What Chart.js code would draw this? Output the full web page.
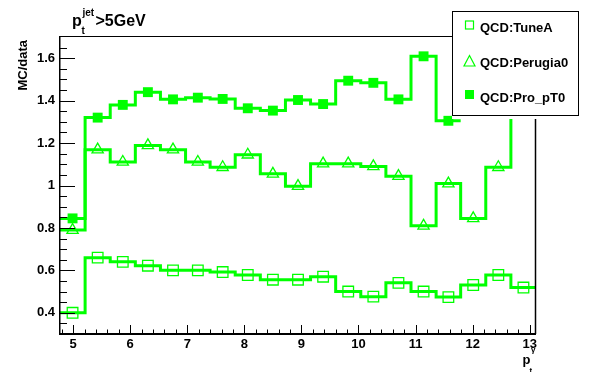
<!DOCTYPE html>
<html>
<head>
<meta charset="utf-8">
<script src="https://cdn.jsdelivr.net/npm/chart.js@4.4.0/dist/chart.umd.min.js"></script>
<style>
  body { margin: 0; background: #fff; }
  canvas { display: block; }
</style>
</head>
<body>
<canvas id="ratioChart" width="596" height="372"></canvas>
<script>
// bin edges of the p_t^gamma histogram
const binEdges = [4.77, 5.21, 5.65, 6.09, 6.53, 6.97, 7.40, 7.84, 8.28, 8.72, 9.16,
                  9.60, 10.04, 10.48, 10.92, 11.36, 11.79, 12.23, 12.67, 13.11];

const tuneA    = [0.40, 0.66, 0.64, 0.622, 0.60, 0.60, 0.592, 0.578, 0.556, 0.556,
                  0.57, 0.50, 0.476, 0.541, 0.50, 0.474, 0.531, 0.578, 0.519];
const perugia0 = [0.79, 1.169, 1.111, 1.189, 1.169, 1.111, 1.086, 1.145, 1.055, 0.997,
                  1.103, 1.103, 1.09, 1.044, 0.81, 1.009, 0.845, 1.086, 1.62];
const proPT0   = [0.845, 1.32, 1.38, 1.44, 1.406, 1.414, 1.408, 1.364, 1.353, 1.403,
                  1.384, 1.494, 1.484, 1.406, 1.609, 1.305, null, null, null];

const seriesNames = ["QCD:TuneA", "QCD:Perugia0", "QCD:Pro_pT0"];
const xTicks = [5, 6, 7, 8, 9, 10, 11, 12, 13];
const yTicks = [0.4, 0.6, 0.8, 1, 1.2, 1.4, 1.6];
const yTickLabels = ["0.4", "0.6", "0.8", "1", "1.2", "1.4", "1.6"];

const GREEN = "#00ff00";
const FONT = "'Liberation Sans', Arial, Helvetica, sans-serif";

function histPoints(values) {
    const pts = [];
    values.forEach((v, i) => {
        pts.push({ x: binEdges[i], y: v });
        pts.push({ x: binEdges[i + 1], y: v });
    });
    return pts;
}

function markerPoints(values) {
    return values.map((v, i) => ({ x: (binEdges[i] + binEdges[i + 1]) / 2, y: v }));
}

function histDataset(values) {
    return {
        type: "line",
        data: histPoints(values),
        borderColor: GREEN,
        borderWidth: 3,
        pointRadius: 0,
        fill: false,
        spanGaps: false,
        tension: 0
    };
}

function markerDataset(values, style, radius, filled) {
    return {
        type: "scatter",
        data: markerPoints(values),
        pointStyle: style,
        pointRadius: radius,
        pointBorderColor: GREEN,
        pointBackgroundColor: filled ? GREEN : "rgba(0,0,0,0)",
        pointBorderWidth: filled ? 0 : 1.3,
        showLine: false
    };
}

// ROOT-like frame, ticks, titles and legend
const rootFrame = {
    id: "rootFrame",
    afterDraw(chart) {
        const ctx = chart.ctx;
        const a = chart.chartArea;
        const xs = chart.scales.x, ys = chart.scales.y;
        ctx.save();
        ctx.strokeStyle = "#000";
        ctx.fillStyle = "#000";

        // frame
        ctx.lineWidth = 1;
        ctx.beginPath();
        ctx.moveTo(a.left, a.top - 0.5); ctx.lineTo(a.right, a.top - 0.5);
        ctx.stroke();
        ctx.lineWidth = 1.5;
        ctx.beginPath();
        ctx.moveTo(a.right - 0.5, a.top); ctx.lineTo(a.right - 0.5, a.bottom);
        ctx.moveTo(a.left - 0.25, a.top - 1); ctx.lineTo(a.left - 0.25, a.bottom);
        ctx.stroke();
        ctx.lineWidth = 2;
        ctx.beginPath();
        ctx.moveTo(a.left - 1, a.bottom); ctx.lineTo(a.right, a.bottom);
        ctx.stroke();

        // y ticks
        ctx.lineWidth = 1;
        ctx.beginPath();
        for (let k = 7; k <= 33; k++) {
            const y = Math.round(ys.getPixelForValue(k * 0.05)) + 0.5;
            const len = (k % 4 === 0) ? 15 : 7;
            ctx.moveTo(a.left, y); ctx.lineTo(a.left + len, y);
        }
        // x ticks
        for (let k = 24; k <= 65; k++) {
            const x = Math.round(xs.getPixelForValue(k * 0.2)) + 0.5;
            const len = (k % 5 === 0) ? 9 : 4.5;
            ctx.moveTo(x, a.bottom); ctx.lineTo(x, a.bottom - len);
        }
        ctx.stroke();

        // title p_t^jet > 5GeV
        ctx.textAlign = "left";
        ctx.textBaseline = "alphabetic";
        ctx.font = "bold 16px " + FONT;
        ctx.fillText("p", 72, 26);
        ctx.font = "bold 10px " + FONT;
        ctx.fillText("jet", 82.5, 16);
        ctx.fillText("t", 81.5, 34);
        ctx.font = "bold 16px " + FONT;
        ctx.fillText(">5GeV", 95.5, 26);

        // y axis title
        ctx.save();
        ctx.translate(26.5, 40);
        ctx.rotate(-Math.PI / 2);
        ctx.textAlign = "right";
        ctx.font = "bold 13px " + FONT;
        ctx.fillText("MC/data", 0, 0);
        ctx.restore();

        // x axis title p_t^gamma
        ctx.font = "bold 13px " + FONT;
        ctx.fillText("p", 522.5, 364);
        ctx.font = "bold 8px " + FONT;
        ctx.fillText("\u03b3", 531, 352);
        ctx.fillText("t", 529.5, 373);

        // legend box
        ctx.fillStyle = "#fff";
        ctx.fillRect(452, 11, 128, 108);
        ctx.lineWidth = 1;
        ctx.strokeStyle = "#000";
        ctx.strokeRect(452.5, 11.5, 126, 104);

        ctx.strokeStyle = GREEN;
        ctx.fillStyle = GREEN;
        ctx.lineWidth = 1.2;
        ctx.strokeRect(465.5, 21, 8, 8);
        ctx.beginPath();
        ctx.moveTo(469.5, 55.5);
        ctx.lineTo(475, 66);
        ctx.lineTo(464, 66);
        ctx.closePath();
        ctx.stroke();
        ctx.fillRect(465, 90, 9, 9);

        ctx.fillStyle = "#000";
        ctx.font = "bold 13px " + FONT;
        ctx.fillText(seriesNames[0], 480, 31.5);
        ctx.fillText(seriesNames[1], 480, 66.5);
        ctx.fillText(seriesNames[2], 480, 101.5);
        ctx.restore();
    }
};

const tickFont = { family: FONT, size: 13, weight: "bold" };

new Chart(document.getElementById("ratioChart").getContext("2d"), {
    data: {
        datasets: [
            markerDataset(proPT0, "rect", 7, true),
            markerDataset(perugia0, "triangle", 6.5, false),
            markerDataset(tuneA, "rect", 7.5, false),
            histDataset(proPT0),
            histDataset(perugia0),
            histDataset(tuneA)
        ]
    },
    options: {
        responsive: false,
        animation: false,
        devicePixelRatio: 1,
        layout: { padding: { top: 37, right: 60, left: 0, bottom: 0 } },
        plugins: {
            legend: { display: false },
            tooltip: { enabled: false }
        },
        scales: {
            x: {
                type: "linear",
                min: 4.77,
                max: 13.11,
                grid: { display: false, drawTicks: false },
                border: { display: false },
                afterBuildTicks: s => { s.ticks = xTicks.map(v => ({ value: v })); },
                afterFit: s => { s.height = 38; },
                ticks: {
                    color: "#000",
                    font: tickFont,
                    padding: 3,
                    maxRotation: 0,
                    autoSkip: false,
                    callback: v => String(v)
                }
            },
            y: {
                type: "linear",
                min: 0.3,
                max: 1.7,
                grid: { display: false, drawTicks: false },
                border: { display: false },
                afterBuildTicks: s => { s.ticks = yTicks.map(v => ({ value: v })); },
                afterFit: s => { s.width = 60; },
                ticks: {
                    color: "#000",
                    font: tickFont,
                    padding: 5,
                    autoSkip: false,
                    callback: (v, i) => yTickLabels[i]
                }
            }
        }
    },
    plugins: [rootFrame]
});
</script>
</body>
</html>
